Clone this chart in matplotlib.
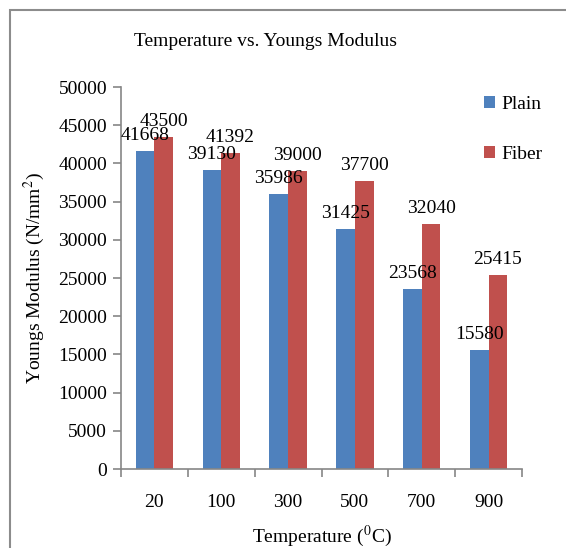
import matplotlib.pyplot as plt
import matplotlib.patches as mpatches
import numpy as np

plt.rcParams.update({
    "font.family": ["Liberation Serif", "DejaVu Serif"],
    "mathtext.fontset": "stix",
    "font.size": 14,
})

temps = ["20", "100", "300", "500", "700", "900"]
plain = [41668, 39130, 35986, 31425, 23568, 15580]
fiber = [43500, 41392, 39000, 37700, 32040, 25415]

BLUE = "#4F81BD"
RED = "#C0504D"
GREY = "#868686"

fig = plt.figure(figsize=(5.66, 5.48), dpi=100)
ax = fig.add_axes([121 / 566, 1 - 469 / 548, 401 / 566, 382 / 548])

x = np.arange(len(temps))
w = 0.28
b1 = ax.bar(x - w / 2, plain, w, color=BLUE, label="Plain")
b2 = ax.bar(x + w / 2, fiber, w, color=RED, label="Fiber")
ax.bar_label(b1, labels=[str(v) for v in plain], padding=5, fontsize=14)
ax.bar_label(b2, labels=[str(v) for v in fiber], padding=5, fontsize=14)

ax.set_xlim(-0.5, len(temps) - 0.5)
ax.set_ylim(0, 50000)
ax.set_yticks(np.arange(0, 50001, 5000))
ax.set_xticks(x)
ax.set_xticklabels(temps)
ax.set_xticks(np.arange(-0.5, len(temps)), minor=True)
ax.tick_params(axis="x", which="major", length=0, pad=18)
ax.tick_params(axis="x", which="minor", length=6, color=GREY, width=1.2)
ax.tick_params(axis="y", length=6, color=GREY, width=1.2, pad=4)

for s in ["top", "right"]:
    ax.spines[s].set_visible(False)
for s in ["left", "bottom"]:
    ax.spines[s].set_color(GREY)
    ax.spines[s].set_linewidth(1.2)

ax.set_xlabel(r"Temperature ($^0$C)", labelpad=9)
ax.set_ylabel(r"Youngs Modulus (N/mm$^2$)", labelpad=8)

fig.text(265 / 566, 1 - 42 / 548, "Temperature vs. Youngs Modulus",
         ha="center", va="center", fontsize=14)

fig.legend(handles=[b1, b2], loc="upper left",
           bbox_to_anchor=(476 / 566, 1 - 88 / 548), frameon=False,
           handlelength=0.6, handleheight=0.6, handletextpad=0.3,
           labelspacing=1.7, fontsize=14, borderaxespad=0)

# outer chart frame
frame = mpatches.Rectangle((10 / 566, -0.05), 1.0, 1 - 10 / 548 + 0.05,
                           transform=fig.transFigure, fill=False,
                           edgecolor="#8c8c8c", linewidth=1.5, clip_on=False)
fig.patches.append(frame)

fig.savefig("out.png", dpi=100)
